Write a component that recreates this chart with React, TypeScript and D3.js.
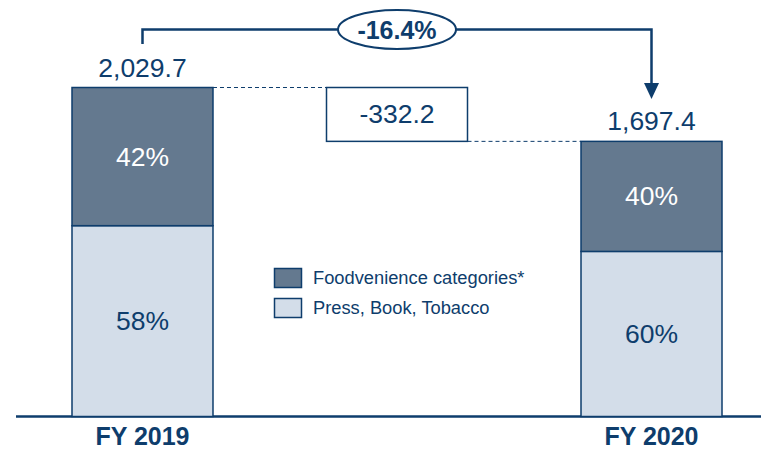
import React from "react";
import * as d3 from "d3";

const categories = ["FY 2019", "FY 2020"];
const totals = [2029.7, 1697.4];
const totalLabels = ["2,029.7", "1,697.4"];
const foodShare = [42, 40];
const pressShare = [58, 60];
const seriesNames = ["Foodvenience categories*", "Press, Book, Tobacco"];
const deltaLabel = "-332.2";
const changeLabel = "-16.4%";

const W = 761;
const H = 449;
const DARK = "#0e3d6c";
const FOOD = "#64798f";
const PRESS = "#d3dde9";
const FONT = "Liberation Sans, Arial, sans-serif";

export default function App() {
  const baseY = 416.5;
  const y = d3.scaleLinear().domain([0, 2029.7]).range([baseY, 87.5]);
  const x = d3.scaleBand().domain(categories).range([72, 722]).paddingInner(0.723).paddingOuter(0);
  const bw = x.bandwidth();

  const bars = categories.map((c, i) => {
    const x0 = x(c) as number;
    const top = y(totals[i]);
    const mid = y(totals[i] * (1 - foodShare[i] / 100));
    return { c, i, x0, top, mid, cx: x0 + bw / 2 };
  });
  const b0 = bars[0];
  const b1 = bars[1];
  const boxL = 326.5;
  const boxR = 467.5;
  const boxCx = (boxL + boxR) / 2;

  return (
    <svg width={W} height={H} style={{ position: "absolute", left: 0, top: 0, background: "#fff" }} fontFamily={FONT}>
      <line x1={16} x2={W} y1={baseY} y2={baseY} stroke={DARK} strokeWidth={2.5} />
      {bars.map((b) => (
        <g key={b.c}>
          <rect x={b.x0} y={b.mid} width={bw} height={baseY - b.mid} fill={PRESS} stroke={DARK} strokeWidth={1.5} />
          <rect x={b.x0} y={b.top} width={bw} height={b.mid - b.top} fill={FOOD} stroke={DARK} strokeWidth={1.5} />
          <text x={b.cx} y={(b.top + b.mid) / 2 + 9} textAnchor="middle" fontSize={26.5} fill="#fff">
            {foodShare[b.i]}%
          </text>
          <text x={b.cx} y={(b.mid + baseY) / 2 + 9} textAnchor="middle" fontSize={26.5} fill={DARK}>
            {pressShare[b.i]}%
          </text>
          <text x={b.cx} y={b.top - 11} textAnchor="middle" fontSize={26.5} fill={DARK}>
            {totalLabels[b.i]}
          </text>
          <text x={b.cx} y={444.5} textAnchor="middle" fontSize={25} fontWeight="bold" fill={DARK}>
            {b.c}
          </text>
        </g>
      ))}
      <line x1={b0.x0 + bw} x2={boxL} y1={b0.top} y2={b0.top} stroke={DARK} strokeWidth={1} strokeDasharray="4,3" />
      <line x1={boxR} x2={b1.x0} y1={b1.top} y2={b1.top} stroke={DARK} strokeWidth={1} strokeDasharray="4,3" />
      <rect x={boxL} y={b0.top} width={boxR - boxL} height={b1.top - b0.top} fill="#fff" stroke={DARK} strokeWidth={1.5} />
      <text x={boxCx} y={(b0.top + b1.top) / 2 + 9} textAnchor="middle" fontSize={26.5} fill={DARK}>
        {deltaLabel}
      </text>
      <path
        d={`M${b0.cx},44 V29.5 H${boxCx - 59} M${boxCx + 59},29.5 H${b1.cx} V84`}
        fill="none"
        stroke={DARK}
        strokeWidth={2.5}
      />
      <path d={`M${b1.cx - 7.5},83 L${b1.cx + 7.5},83 L${b1.cx},99 Z`} fill={DARK} />
      <ellipse cx={boxCx} cy={29.5} rx={59} ry={19.5} fill="#fff" stroke={DARK} strokeWidth={2} />
      <text x={boxCx} y={38.5} textAnchor="middle" fontSize={25} fontWeight="bold" fill={DARK}>
        {changeLabel}
      </text>
      {seriesNames.map((s, i) => (
        <g key={s}>
          <rect x={274.5} y={268.5 + i * 30} width={27} height={19} fill={i === 0 ? FOOD : PRESS} stroke={DARK} strokeWidth={1.5} />
          <text x={313} y={284 + i * 30} fontSize={18.3} fill={DARK}>
            {s}
          </text>
        </g>
      ))}
    </svg>
  );
}
